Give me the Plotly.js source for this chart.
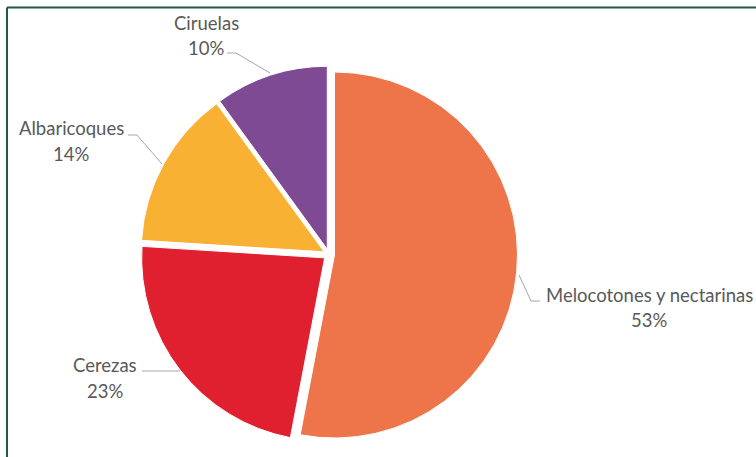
<!DOCTYPE html>
<html>
<head>
<meta charset="utf-8">
<script src="https://cdn.plot.ly/plotly-3.0.1.min.js"></script>
<style>html,body{margin:0;padding:0;background:#fff;}#chart{width:756px;height:457px;}</style>
</head>
<body>
<div id="chart"></div>
<script>
// Data
const labels = ["Melocotones y nectarinas", "Cerezas", "Albaricoques", "Ciruelas"];
const values = [53, 23, 14, 10];
const colors = ["#EE7449", "#E0202F", "#F8B133", "#7E4A94"];

const W = 756, H = 457;
const px = x => x / W;
const py = y => 1 - y / H;

const total = values.reduce((a, b) => a + b, 0);
const pct = values.map(v => Math.round(v / total * 100) + "%");

// label positions (pixels): [centerX, nameY, pctY]
const labelPos = [
  [649, 295, 320],
  [105, 365, 391],
  [71, 128, 154],
  [206, 23, 48]
];
// leader lines (pixels)
const leaders = [
  [[519, 275], [531, 301], [540, 301]],
  [[142, 371], [180, 371]],
  [[128, 135], [137, 135], [162, 164]],
  [[227, 53], [236, 53], [270, 73]]
];

const font = {family: "Lato, 'Open Sans', sans-serif", size: 18.5, color: "#595959"};
const annotations = [];
labels.forEach((l, i) => {
  const p = labelPos[i];
  annotations.push({xref: "paper", yref: "paper", x: px(p[0]), y: py(p[1]), text: l, showarrow: false, xanchor: "center", yanchor: "middle", font: font});
  annotations.push({xref: "paper", yref: "paper", x: px(p[0]), y: py(p[2]), text: pct[i], showarrow: false, xanchor: "center", yanchor: "middle", font: font});
});

const shapes = leaders.map(pts => ({
  type: "path", xref: "paper", yref: "paper",
  path: pts.map((q, j) => (j ? "L" : "M") + px(q[0]) + "," + py(q[1])).join(" "),
  line: {color: "#A6A6A6", width: 1}
}));
// frame (top and left)
shapes.push({type: "line", xref: "paper", yref: "paper", x0: px(7), x1: 1.01, y0: py(7.5), y1: py(7.5), line: {color: "#1E5A45", width: 2}});
shapes.push({type: "line", xref: "paper", yref: "paper", x0: px(7), x1: px(7), y0: py(7.5), y1: -0.01, line: {color: "#1E5A45", width: 2}});

const trace = {
  type: "pie",
  labels: labels,
  values: values,
  sort: false,
  direction: "clockwise",
  rotation: 0,
  pull: [0.03, 0.03, 0.03, 0.03],
  marker: {colors: colors, line: {color: "#FFFFFF", width: 1}},
  textinfo: "none",
  hoverinfo: "label+percent",
  domain: {x: [px(140.5), px(517.5)], y: [457 - 443, 457 - 66].map(v => v / H)}
};

Plotly.newPlot("chart", [trace], {
  width: W, height: H,
  margin: {l: 0, r: 0, t: 0, b: 0},
  showlegend: false,
  paper_bgcolor: "#FFFFFF",
  annotations: annotations,
  shapes: shapes
}, {displayModeBar: false, staticPlot: true});
</script>
</body>
</html>
